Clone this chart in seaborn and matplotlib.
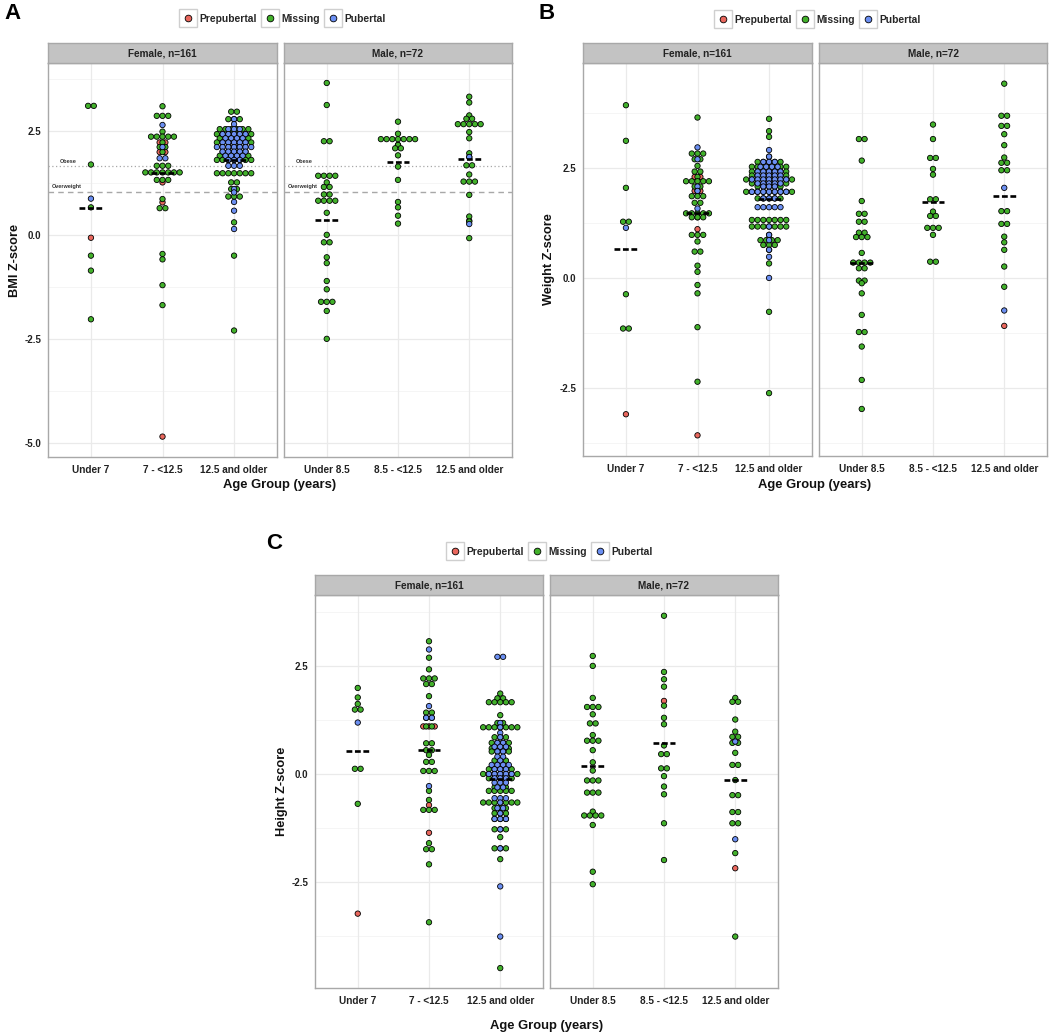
import numpy as np
import pandas as pd
import seaborn as sns
import matplotlib.pyplot as plt
from matplotlib.lines import Line2D
from matplotlib.legend_handler import HandlerTuple

sns.set_theme(style="white")
plt.rcParams['font.family'] = ['Liberation Sans', 'DejaVu Sans']
plt.rcParams['font.weight'] = 'bold'

STATUS = ["Prepubertal", "Missing", "Pubertal"]
COLORS = {"Prepubertal": "#E9675D", "Missing": "#42B12B", "Pubertal": "#6B8FF2"}
FEMALE_GROUPS = ["Under 7", "7 - <12.5", "12.5 and older"]
MALE_GROUPS = ["Under 8.5", "8.5 - <12.5", "12.5 and older"]
STRIPS = ["Female, n=161", "Male, n=72"]

# rows: (sex, age group index, z-score bin, number of dots)
bmi_missing = [
    ("F", 0, 3.10, 2), ("F", 0, 1.69, 1), ("F", 0, 0.66, 1), ("F", 0, -0.50, 1), ("F", 0, -0.86, 1), ("F", 0, -2.03, 1),
    ("F", 1, 3.09, 1), ("F", 1, 2.86, 3), ("F", 1, 2.48, 1), ("F", 1, 2.36, 5), ("F", 1, 2.22, 1), ("F", 1, 2.11, 2),
    ("F", 1, 1.99, 1), ("F", 1, 1.66, 3), ("F", 1, 1.50, 7), ("F", 1, 1.32, 3), ("F", 1, 0.86, 1), ("F", 1, 0.64, 2),
    ("F", 1, -0.46, 1), ("F", 1, -0.59, 1), ("F", 1, -1.21, 1), ("F", 1, -1.69, 1),
    ("F", 2, 2.96, 2), ("F", 2, 2.78, 3), ("F", 2, 2.54, 6), ("F", 2, 2.42, 7), ("F", 2, 2.32, 6), ("F", 2, 2.22, 7),
    ("F", 2, 2.11, 3), ("F", 2, 2.00, 5), ("F", 2, 1.90, 6), ("F", 2, 1.80, 7), ("F", 2, 1.48, 7), ("F", 2, 1.26, 2),
    ("F", 2, 1.10, 2), ("F", 2, 0.92, 3), ("F", 2, 0.30, 1), ("F", 2, -0.50, 1), ("F", 2, -2.30, 1),
    ("M", 0, 3.65, 1), ("M", 0, 3.12, 1), ("M", 0, 2.25, 2), ("M", 0, 1.42, 4), ("M", 0, 1.26, 1), ("M", 0, 1.15, 2),
    ("M", 0, 0.97, 2), ("M", 0, 0.82, 4), ("M", 0, 0.53, 1), ("M", 0, 0.00, 1), ("M", 0, -0.18, 2), ("M", 0, -0.54, 1),
    ("M", 0, -0.68, 1), ("M", 0, -1.11, 1), ("M", 0, -1.31, 1), ("M", 0, -1.61, 3), ("M", 0, -1.83, 1), ("M", 0, -2.50, 1),
    ("M", 1, 2.72, 1), ("M", 1, 2.43, 1), ("M", 1, 2.30, 7), ("M", 1, 2.16, 1), ("M", 1, 2.08, 2), ("M", 1, 1.91, 1),
    ("M", 1, 1.64, 1), ("M", 1, 1.32, 1), ("M", 1, 0.79, 1), ("M", 1, 0.66, 1), ("M", 1, 0.46, 1), ("M", 1, 0.27, 1),
    ("M", 2, 3.32, 1), ("M", 2, 3.18, 1), ("M", 2, 2.87, 1), ("M", 2, 2.79, 2), ("M", 2, 2.66, 5), ("M", 2, 2.47, 1),
    ("M", 2, 2.32, 1), ("M", 2, 1.96, 1), ("M", 2, 1.87, 1), ("M", 2, 1.67, 2), ("M", 2, 1.45, 1), ("M", 2, 1.28, 3),
    ("M", 2, 0.96, 1), ("M", 2, 0.44, 1), ("M", 2, 0.32, 1), ("M", 2, -0.08, 1),
]
bmi_prepubertal = [
    ("F", 0, -0.07, 1),
    ("F", 1, 2.22, 2), ("F", 1, 1.99, 2), ("F", 1, 1.26, 1), ("F", 1, 0.78, 1), ("F", 1, -4.85, 1),
    ("M", 1, 2.16, 1), ("M", 2, 0.34, 1),
]
bmi_pubertal = [
    ("F", 0, 0.87, 1),
    ("F", 1, 2.64, 1), ("F", 1, 2.11, 1), ("F", 1, 1.84, 2),
    ("F", 2, 2.78, 1), ("F", 2, 2.66, 1), ("F", 2, 2.54, 3), ("F", 2, 2.42, 5), ("F", 2, 2.32, 4), ("F", 2, 2.22, 5),
    ("F", 2, 2.11, 7), ("F", 2, 2.00, 5), ("F", 2, 1.90, 4), ("F", 2, 1.80, 3), ("F", 2, 1.66, 3), ("F", 2, 1.10, 1),
    ("F", 2, 1.02, 1), ("F", 2, 0.79, 1), ("F", 2, 0.58, 1), ("F", 2, 0.14, 1),
    ("M", 2, 1.87, 1), ("M", 2, 0.26, 1),
]
bmi_means = [0.64, 1.49, 1.81, 0.35, 1.75, 1.82]  # F0 F1 F2 M0 M1 M2

weight_missing = [
    ("F", 0, 3.93, 1), ("F", 0, 3.12, 1), ("F", 0, 2.05, 1), ("F", 0, 1.28, 2), ("F", 0, -0.37, 1), ("F", 0, -1.15, 2),
    ("F", 1, 3.65, 1), ("F", 1, 2.83, 3), ("F", 1, 2.70, 2), ("F", 1, 2.55, 1), ("F", 1, 2.42, 2), ("F", 1, 2.30, 1),
    ("F", 1, 2.20, 5), ("F", 1, 2.08, 2), ("F", 1, 1.98, 1), ("F", 1, 1.86, 3), ("F", 1, 1.71, 2), ("F", 1, 1.47, 5),
    ("F", 1, 1.38, 3), ("F", 1, 0.98, 3), ("F", 1, 0.83, 1), ("F", 1, 0.60, 2), ("F", 1, 0.28, 1), ("F", 1, 0.14, 1),
    ("F", 1, -0.16, 1), ("F", 1, -0.35, 1), ("F", 1, -1.12, 1), ("F", 1, -2.36, 1),
    ("F", 2, 3.62, 1), ("F", 2, 3.34, 1), ("F", 2, 3.21, 1), ("F", 2, 2.76, 1), ("F", 2, 2.64, 5), ("F", 2, 2.53, 7),
    ("F", 2, 2.42, 7), ("F", 2, 2.33, 7), ("F", 2, 2.24, 9), ("F", 2, 2.15, 7), ("F", 2, 2.08, 5), ("F", 2, 1.96, 9),
    ("F", 2, 1.81, 5), ("F", 2, 1.32, 7), ("F", 2, 1.17, 7), ("F", 2, 0.98, 1), ("F", 2, 0.86, 4), ("F", 2, 0.75, 3),
    ("F", 2, 0.64, 1), ("F", 2, 0.33, 1), ("F", 2, -0.77, 1), ("F", 2, -2.62, 1),
    ("M", 0, 3.16, 2), ("M", 0, 2.67, 1), ("M", 0, 1.75, 1), ("M", 0, 1.46, 2), ("M", 0, 1.28, 2), ("M", 0, 1.03, 2),
    ("M", 0, 0.93, 3), ("M", 0, 0.57, 1), ("M", 0, 0.35, 4), ("M", 0, 0.22, 2), ("M", 0, -0.06, 2), ("M", 0, -0.12, 1),
    ("M", 0, -0.35, 1), ("M", 0, -0.84, 1), ("M", 0, -1.23, 2), ("M", 0, -1.56, 1), ("M", 0, -2.32, 1), ("M", 0, -2.98, 1),
    ("M", 1, 3.49, 1), ("M", 1, 3.16, 1), ("M", 1, 2.73, 2), ("M", 1, 2.48, 1), ("M", 1, 2.35, 1), ("M", 1, 1.79, 2),
    ("M", 1, 1.51, 1), ("M", 1, 1.41, 2), ("M", 1, 1.14, 3), ("M", 1, 0.98, 1), ("M", 1, 0.37, 2),
    ("M", 2, 4.42, 1), ("M", 2, 3.69, 2), ("M", 2, 3.46, 2), ("M", 2, 3.27, 1), ("M", 2, 3.02, 1), ("M", 2, 2.74, 1),
    ("M", 2, 2.62, 2), ("M", 2, 2.45, 2), ("M", 2, 1.52, 2), ("M", 2, 1.23, 2), ("M", 2, 0.94, 1), ("M", 2, 0.81, 1),
    ("M", 2, 0.64, 1), ("M", 2, 0.26, 1), ("M", 2, -0.20, 1),
]
weight_prepubertal = [
    ("F", 0, -3.10, 1),
    ("F", 1, 2.30, 2), ("F", 1, 1.98, 2), ("F", 1, 1.38, 1), ("F", 1, 1.11, 1), ("F", 1, -3.58, 1),
    ("M", 2, -1.09, 1),
]
weight_pubertal = [
    ("F", 0, 1.14, 1),
    ("F", 1, 2.97, 1), ("F", 1, 2.70, 1), ("F", 1, 2.08, 1), ("F", 1, 1.98, 1), ("F", 1, 1.58, 1),
    ("F", 2, 2.91, 1), ("F", 2, 2.76, 1), ("F", 2, 2.64, 3), ("F", 2, 2.53, 4), ("F", 2, 2.42, 5), ("F", 2, 2.33, 5),
    ("F", 2, 2.24, 7), ("F", 2, 2.15, 5), ("F", 2, 2.08, 3), ("F", 2, 1.96, 7), ("F", 2, 1.81, 3), ("F", 2, 1.61, 5),
    ("F", 2, 1.17, 1), ("F", 2, 0.98, 1), ("F", 2, 0.86, 1), ("F", 2, 0.64, 1), ("F", 2, 0.48, 1), ("F", 2, 0.00, 1),
    ("M", 2, 2.05, 1), ("M", 2, -0.74, 1),
]
weight_means = [0.66, 1.47, 1.80, 0.35, 1.73, 1.86]

height_missing = [
    ("F", 0, 1.99, 1), ("F", 0, 1.77, 1), ("F", 0, 1.62, 1), ("F", 0, 1.49, 2), ("F", 0, 0.12, 2), ("F", 0, -0.69, 1),
    ("F", 1, 3.07, 1), ("F", 1, 2.69, 1), ("F", 1, 2.42, 1), ("F", 1, 2.21, 3), ("F", 1, 2.08, 2), ("F", 1, 1.80, 1),
    ("F", 1, 1.42, 2), ("F", 1, 1.30, 2), ("F", 1, 1.10, 2), ("F", 1, 0.71, 2), ("F", 1, 0.55, 2), ("F", 1, 0.44, 1),
    ("F", 1, 0.28, 2), ("F", 1, 0.07, 3), ("F", 1, -0.39, 1), ("F", 1, -0.60, 1), ("F", 1, -0.83, 3), ("F", 1, -1.60, 1),
    ("F", 1, -1.74, 2), ("F", 1, -2.09, 1), ("F", 1, -3.43, 1),
    ("F", 2, 1.86, 1), ("F", 2, 1.75, 2), ("F", 2, 1.66, 5), ("F", 2, 1.36, 1), ("F", 2, 1.18, 2), ("F", 2, 1.08, 7),
    ("F", 2, 0.85, 3), ("F", 2, 0.72, 4), ("F", 2, 0.59, 4), ("F", 2, 0.52, 4), ("F", 2, 0.31, 3), ("F", 2, 0.11, 5),
    ("F", 2, 0.00, 7), ("F", 2, -0.10, 5), ("F", 2, -0.31, 3), ("F", 2, -0.39, 5), ("F", 2, -0.66, 7), ("F", 2, -0.79, 3),
    ("F", 2, -0.91, 3), ("F", 2, -1.04, 3), ("F", 2, -1.28, 3), ("F", 2, -1.46, 1), ("F", 2, -1.72, 3), ("F", 2, -1.97, 1),
    ("F", 2, -4.49, 1),
    ("M", 0, 2.73, 1), ("M", 0, 2.50, 1), ("M", 0, 1.76, 1), ("M", 0, 1.55, 3), ("M", 0, 1.38, 1), ("M", 0, 1.17, 2),
    ("M", 0, 0.90, 1), ("M", 0, 0.77, 3), ("M", 0, 0.55, 1), ("M", 0, 0.27, 1), ("M", 0, 0.08, 1), ("M", 0, -0.15, 3),
    ("M", 0, -0.43, 3), ("M", 0, -0.87, 1), ("M", 0, -0.96, 4), ("M", 0, -1.18, 1), ("M", 0, -2.26, 1), ("M", 0, -2.55, 1),
    ("M", 1, 3.66, 1), ("M", 1, 2.36, 1), ("M", 1, 2.19, 1), ("M", 1, 2.02, 1), ("M", 1, 1.58, 1), ("M", 1, 1.30, 1),
    ("M", 1, 1.15, 1), ("M", 1, 0.66, 1), ("M", 1, 0.46, 2), ("M", 1, 0.13, 2), ("M", 1, -0.05, 1), ("M", 1, -0.29, 1),
    ("M", 1, -0.47, 1), ("M", 1, -1.14, 1), ("M", 1, -1.99, 1),
    ("M", 2, 1.76, 1), ("M", 2, 1.67, 2), ("M", 2, 1.26, 1), ("M", 2, 0.98, 1), ("M", 2, 0.86, 2), ("M", 2, 0.72, 2),
    ("M", 2, 0.49, 1), ("M", 2, 0.21, 2), ("M", 2, -0.14, 1), ("M", 2, -0.49, 2), ("M", 2, -0.88, 2), ("M", 2, -1.14, 2),
    ("M", 2, -1.83, 1), ("M", 2, -3.76, 1),
]
height_prepubertal = [
    ("F", 0, -3.23, 1),
    ("F", 1, 1.10, 3), ("F", 1, -0.72, 1), ("F", 1, -1.36, 1),
    ("M", 1, 1.69, 1), ("M", 2, -2.18, 1),
]
height_pubertal = [
    ("F", 0, 1.19, 1),
    ("F", 1, 2.88, 1), ("F", 1, 1.57, 1), ("F", 1, 1.30, 2), ("F", 1, -0.28, 1),
    ("F", 2, 2.71, 2), ("F", 2, 1.18, 1), ("F", 2, 1.08, 1), ("F", 2, 0.95, 1), ("F", 2, 0.85, 1), ("F", 2, 0.72, 2),
    ("F", 2, 0.63, 3), ("F", 2, 0.52, 2), ("F", 2, 0.40, 2), ("F", 2, 0.31, 1), ("F", 2, 0.21, 4), ("F", 2, 0.11, 3),
    ("F", 2, 0.00, 5), ("F", 2, -0.10, 3), ("F", 2, -0.20, 3), ("F", 2, -0.31, 2), ("F", 2, -0.56, 3), ("F", 2, -0.66, 1),
    ("F", 2, -0.79, 2), ("F", 2, -0.91, 1), ("F", 2, -1.04, 3), ("F", 2, -1.28, 1), ("F", 2, -1.72, 1), ("F", 2, -2.60, 1),
    ("F", 2, -3.76, 1),
    ("M", 2, 0.75, 1), ("M", 2, -1.51, 1),
]
height_means = [0.53, 0.55, -0.12, 0.18, 0.71, -0.14]

W, H = 1050, 1036
fig = plt.figure(figsize=(W / 100, H / 100), dpi=100)


def px_axes(x0, y0, x1, y1):
    return fig.add_axes([x0 / W, 1 - y1 / H, (x1 - x0) / W, (y1 - y0) / H])


def build(missing, prepubertal, pubertal):
    parts = []
    for rows, status in [(prepubertal, "Prepubertal"), (missing, "Missing"), (pubertal, "Pubertal")]:
        t = pd.DataFrame(rows, columns=["sex", "age", "z", "n"])
        t = t.loc[t.index.repeat(t["n"])].drop(columns="n")
        t["status"] = status
        parts.append(t)
    df = pd.concat(parts, ignore_index=True)
    # centred dot stacks, one stack per fill group (like geom_dotplot)
    keys = ["sex", "age", "status", "z"]
    k = df.groupby(keys).cumcount()
    n = df.groupby(keys)["z"].transform("size")
    df["offset"] = k - (n - 1) / 2
    df["status"] = pd.Categorical(df["status"], STATUS, ordered=True)
    return df.sort_values("status", kind="stable")


def draw_facet(ax, sub, means, labels, ylim, show_y, refs):
    step = 0.08
    sub = sub.assign(x=sub["age"] + sub["offset"] * step)
    for y in [-3.75, -1.25, 1.25, 3.75]:
        ax.axhline(y, color="#F4F4F4", lw=0.6, zorder=0)
    for y in [-5.0, -2.5, 0.0, 2.5]:
        ax.axhline(y, color="#EAEAEA", lw=0.9, zorder=0)
    for x in range(3):
        ax.axvline(x, color="#EAEAEA", lw=0.9, zorder=0)
    if refs:
        ax.axhline(1.645, color="#A8A8A8", lw=0.9, ls=(0, (1, 2)), zorder=1)
        ax.axhline(1.036, color="#A8A8A8", lw=1.0, ls=(0, (4, 3)), zorder=1)
        ax.text(-0.32, 1.70, "Obese", fontsize=4, ha="center", va="bottom", color="#333333")
        ax.text(-0.34, 1.09, "Overweight", fontsize=4, ha="center", va="bottom", color="#333333")
    sns.scatterplot(data=sub, x="x", y="z", hue="status", hue_order=STATUS, palette=COLORS,
                    s=15, edgecolor="black", linewidth=0.6, legend=False, ax=ax, zorder=3)
    for i, m in enumerate(means):
        ax.plot([i - 0.16, i + 0.16], [m, m], color="black", lw=1.9, ls=(0, (2.2, 1.0)), zorder=4)
    ax.set_xlim(-0.6, 2.6)
    ax.set_ylim(*ylim)
    ax.set_xticks(range(3))
    ax.set_xticklabels(labels)
    yt = [t for t in [-5.0, -2.5, 0.0, 2.5] if ylim[0] < t < ylim[1]]
    ax.set_yticks(yt)
    ax.set_yticklabels([f"{t:.1f}" for t in yt] if show_y else [])
    ax.set_xlabel("")
    ax.set_ylabel("")
    ax.tick_params(axis="x", length=3, width=0.8, color="#333333", labelsize=7.2, pad=3, labelcolor="#222222")
    ax.tick_params(axis="y", length=3 if show_y else 0, width=0.8, color="#333333", labelsize=7.0, pad=2,
                   labelcolor="#222222")
    ax.set_facecolor("white")
    for sp in ax.spines.values():
        sp.set_color("#A8A8A8")
        sp.set_linewidth(1.0)


def strip(x0, x1, y0, y1, text):
    s = px_axes(x0, y0, x1, y1)
    s.set_facecolor("#C3C3C3")
    s.set_xticks([])
    s.set_yticks([])
    for sp in s.spines.values():
        sp.set_color("#A8A8A8")
        sp.set_linewidth(1.0)
    s.text(0.5, 0.5, text, ha="center", va="center", fontsize=7.2, color="#222222", transform=s.transAxes)


def legend(cx, cy):
    handles = [(Line2D([], [], marker="s", ms=13.5, mfc="white", mec="#CFCFCF", mew=1.0, ls=""),
                Line2D([], [], marker="o", ms=4.8, mfc=COLORS[s], mec="black", mew=0.6, ls=""))
               for s in STATUS]
    fig.legend(handles, STATUS, handler_map={tuple: HandlerTuple(ndivide=1)}, ncol=3, frameon=False,
               loc="center", bbox_to_anchor=(cx / W, 1 - cy / H), fontsize=7.4, handlelength=1.9,
               handletextpad=0.2, columnspacing=0.3, borderpad=0)


panels = [
    dict(letter="A", lx=4, ly=3, data=build(bmi_missing, bmi_prepubertal, bmi_pubertal), means=bmi_means,
         ylim=(-5.34, 4.13), ylabel="BMI Z-score", fx=(48, 277), mx=(284, 512), top=43, y0=63, y1=457,
         ylab_x=15, xlab=(280, 485), leg=(282, 19), refs=True),
    dict(letter="B", lx=539, ly=3, data=build(weight_missing, weight_prepubertal, weight_pubertal),
         means=weight_means, ylim=(-4.05, 4.89), ylabel="Weight Z-score", fx=(583, 812), mx=(819, 1047),
         top=43, y0=63, y1=456, ylab_x=549, xlab=(815, 485), leg=(817, 20), refs=False),
    dict(letter="C", lx=266, ly=533, data=build(height_missing, height_prepubertal, height_pubertal),
         means=height_means, ylim=(-4.95, 4.14), ylabel="Height Z-score", fx=(315, 543), mx=(550, 778),
         top=575, y0=595, y1=988, ylab_x=282, xlab=(547, 1026), leg=(549, 552), refs=False),
]

for p in panels:
    df = p["data"]
    for (x0, x1), sex, labels, name, show_y, mi in [(p["fx"], "F", FEMALE_GROUPS, STRIPS[0], True, 0),
                                                     (p["mx"], "M", MALE_GROUPS, STRIPS[1], False, 3)]:
        ax = px_axes(x0, p["y0"], x1, p["y1"])
        draw_facet(ax, df[df["sex"] == sex], p["means"][mi:mi + 3], labels, p["ylim"], show_y, p["refs"])
        strip(x0, x1, p["top"], p["y0"], name)
    cy = (p["y0"] + p["y1"]) / 2
    fig.text(p["ylab_x"] / W, 1 - cy / H, p["ylabel"], rotation=90, ha="center", va="center",
             fontsize=9.2, color="#111111")
    fig.text(p["xlab"][0] / W, 1 - p["xlab"][1] / H, "Age Group (years)", ha="center", va="center",
             fontsize=9.4, color="#111111")
    fig.text(p["lx"] / W, 1 - p["ly"] / H, p["letter"], ha="left", va="top", fontsize=16, color="black")
    legend(*p["leg"])

fig.savefig("out.png", dpi=100, facecolor="white")
